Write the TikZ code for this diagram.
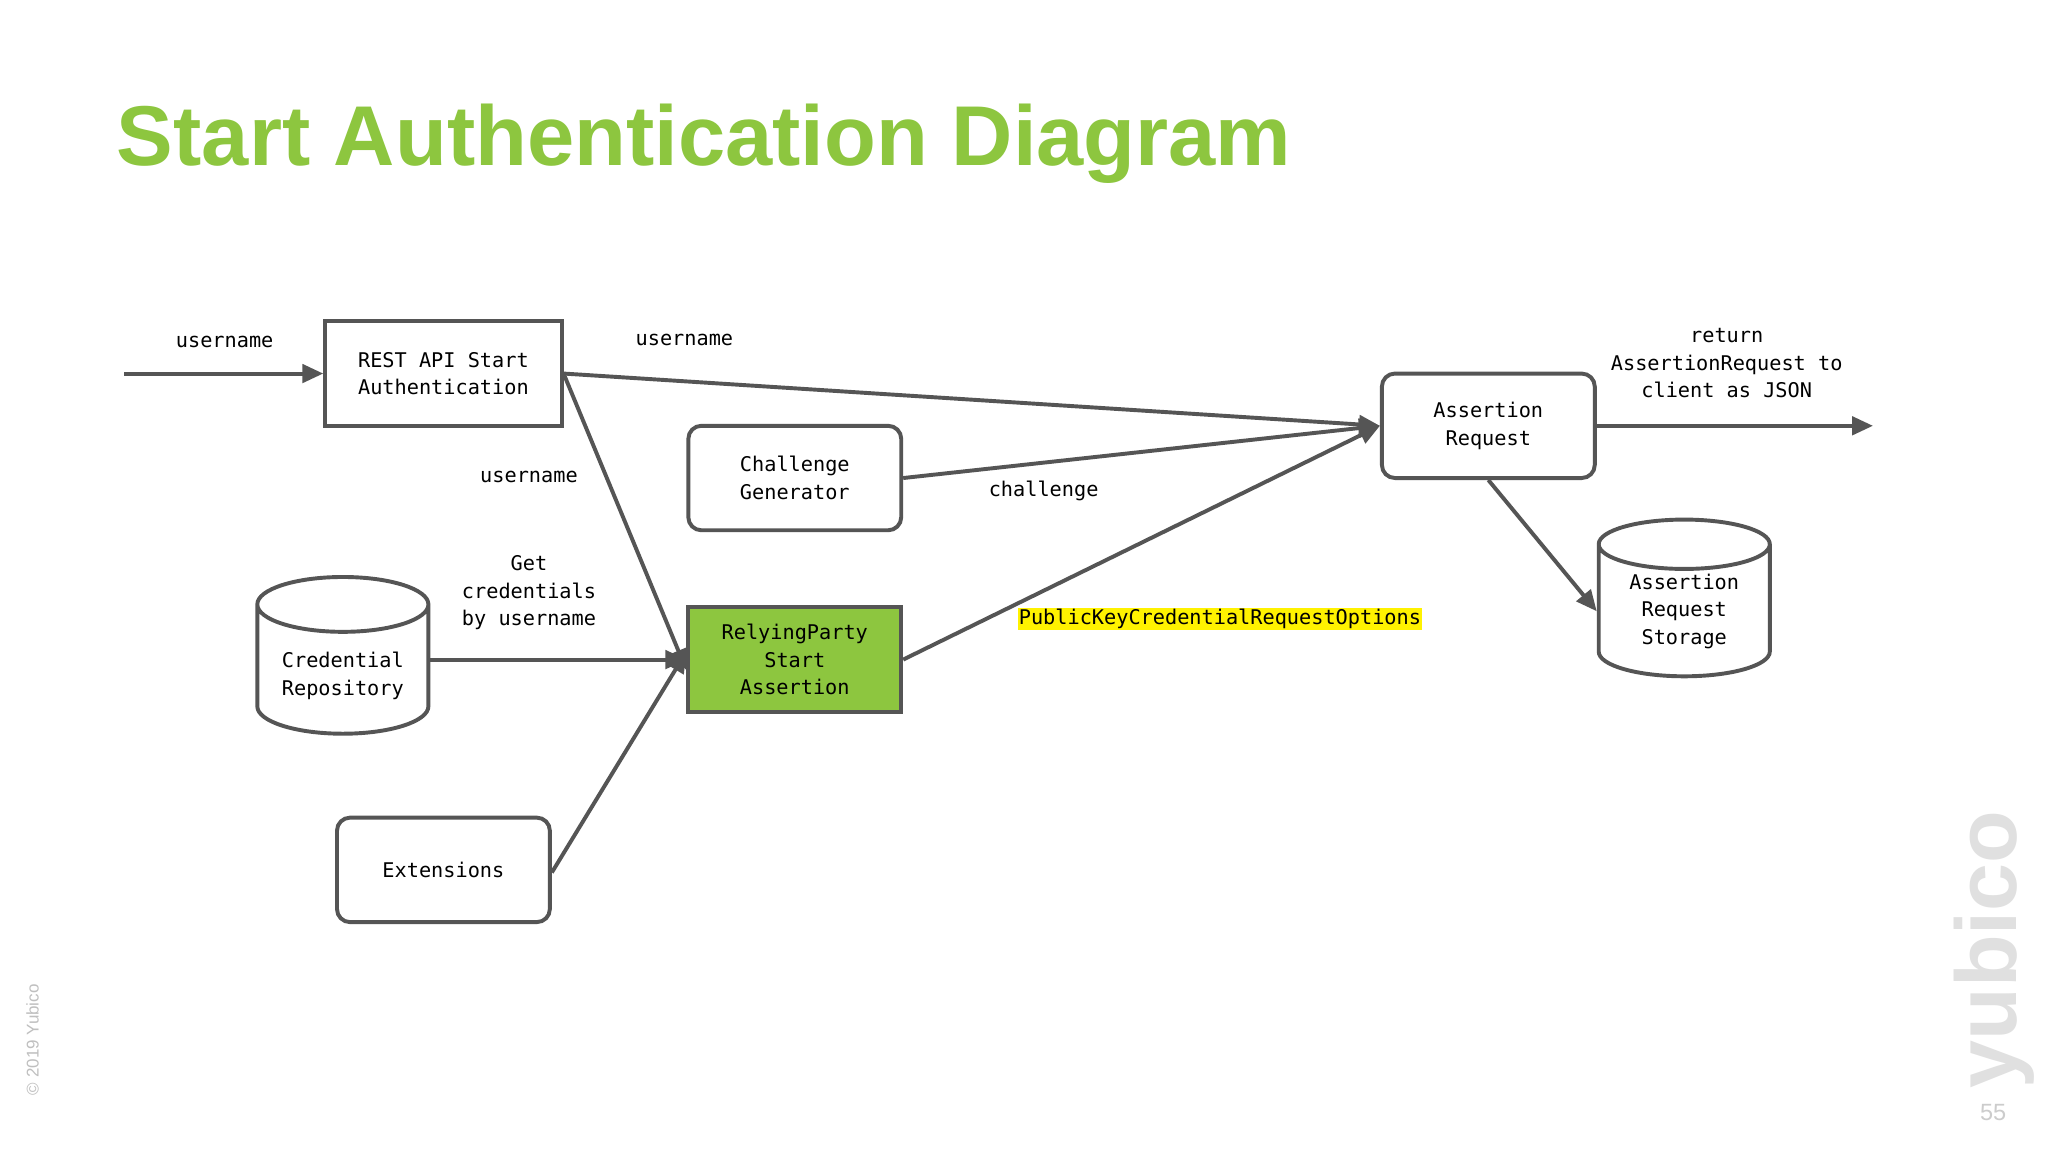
\documentclass[tikz,border=0pt]{standalone}
\usepackage{fontspec}
\setmainfont{Liberation Sans}
\newfontfamily\mono{DejaVu Sans Mono}
\usetikzlibrary{shapes.geometric,arrows.meta}
\definecolor{ygreen}{HTML}{8DC63F}
\definecolor{edge}{HTML}{555555}
\begin{document}
\begin{tikzpicture}[x=1pt,y=-1pt,
  every node/.style={font=\mono\fontsize{15.5}{21}\selectfont,align=center},
  box/.style={draw=edge,line width=3pt,minimum width=163pt,minimum height=80pt,inner sep=0pt},
  rbox/.style={box,rounded corners=10pt},
  cyl/.style={draw=edge,line width=3pt,cylinder,shape border rotate=90,aspect=0.45,minimum width=131pt,minimum height=120pt,inner sep=0pt},
  arr/.style={draw=edge,line width=3pt,-{Triangle[length=16pt,width=14pt]}},
  lbl/.style={inner sep=1pt}]
\useasboundingbox (0,0) rectangle (1568,882);
\fill[white] (0,0) rectangle (1568,882);
\node[font=\bfseries\fontsize{65}{75}\selectfont,text=ygreen,anchor=west] (title) at (86,110) {Start Authentication Diagram};

\node[box,minimum width=181pt] (rest) at (339.5,286) {REST API Start\\Authentication};
\node[rbox] (chal) at (608.5,366) {Challenge\\Generator};
\node[rbox] (ar) at (1139.5,326) {Assertion\\Request};
\node[box,fill=ygreen] (rp) at (608.5,505) {RelyingParty\\Start\\Assertion};
\node[cyl] (cred) at (262.5,513) {\\Credential\\Repository};
\node[cyl] (ars) at (1289.5,468) {Assertion\\Request\\Storage};
\node[rbox] (ext) at (339.5,666) {Extensions};

\coordinate (in) at (95,286);
\coordinate (out) at (1434,326);
\draw[arr] (in) -- (rest.west);
\draw[arr] (rest.east) -- (ar.west);
\draw[arr] (chal.east) -- (ar.west);
\draw[arr] (rp.east) -- (ar.west);
\draw[arr] (rest.east) -- ([yshift=-8pt]rp.west);
\draw[arr] (cred.east|-rp.west) -- (rp.west);
\draw[arr] ([yshift=-2pt]ext.east) -- ([yshift=6pt]rp.west);
\draw[arr] (ar.east) -- (out);
\draw[arr] (ar.south) -- (ars.west);

\node[lbl] (l1) at (172,262) {username};
\node[lbl] (l2) at (524,260) {username};
\node[lbl] (l3) at (405,365) {username};
\node[lbl] (l4) at (405,454) {Get\\credentials\\by username};
\node[lbl] (l5) at (799,376) {challenge};
\node[lbl,fill=yellow] (l6) at (934,474) {PublicKeyCredentialRequestOptions};
\node[lbl] (l7) at (1322,278) {return\\AssertionRequest to\\client as JSON};

\node[rotate=90,text=black!25,font=\fontsize{13}{15}\selectfont] (copy) at (25,796) {© 2019 Yubico};
\node[rotate=90,text=black!12,font=\bfseries\fontsize{66}{70}\selectfont] (logo) at (1527,727) {yubico};
\node[text=black!20,font=\fontsize{18}{20}\selectfont] (page) at (1526,852) {55};
\end{tikzpicture}
\end{document}
